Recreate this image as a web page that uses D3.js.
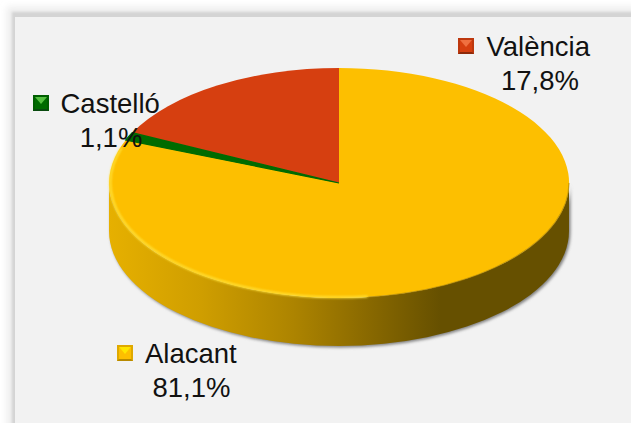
<!DOCTYPE html>
<html><head><meta charset="utf-8">
<script src="https://cdn.jsdelivr.net/npm/d3@7"></script>
<style>html,body{margin:0;padding:0;background:#fff;overflow:hidden}svg{display:block}text{font-family:"Liberation Sans",sans-serif;fill:#111}</style>
</head><body><svg id="c" width="631" height="423"></svg>
<script>
const categories = ["Alacant", "Castelló", "València"];
const values = [81.1, 1.1, 17.8];
const valueLabels = ["81,1%", "1,1%", "17,8%"];
const topColors = ["#fdbf00", "#006b00", "#d63f10"];
const markerLight = ["#ffe600", "#55c040", "#f07040"];
const markerDark = ["#b88a00", "#0a4a10", "#8e2a0a"];

const W = 631, H = 423, cx = 339, cy = 183, rx = 230, ry = 115, depth = 48;
const labelPos = [
  {mx:117, my:345, tx:145, ty:363, px:191.5, py:397},
  {mx:33,  my:95,  tx:60.5,  ty:113, px:111,   py:147},
  {mx:458, my:38,  tx:486.5, ty:56,  px:540,   py:90}
];
const svg = d3.select("#c");
const defs = svg.append("defs");

const addBlur = (id,sd)=>defs.append("filter").attr("id",id).attr("x","-10%").attr("y","-10%").attr("width","120%").attr("height","120%")
  .append("feGaussianBlur").attr("stdDeviation",sd);
addBlur("outerBlur",3.5);
addBlur("frameBlur",1);
addBlur("shadow",1.8);
addBlur("rimBlur",0.9);

const grad = defs.append("linearGradient").attr("id","side")
  .attr("gradientUnits","objectBoundingBox").attr("x1",0).attr("x2",1).attr("y1",0).attr("y2",0);
[[0,"#e6b000"],[0.2,"#cf9e00"],[0.4,"#ad8400"],[0.55,"#8c6b00"],[0.72,"#665000"],[1,"#665000"]]
  .forEach(d=>grad.append("stop").attr("offset",d[0]).attr("stop-color",d[1]));

// card frame
svg.append("rect").attr("x",7).attr("y",7).attr("width",660).attr("height",450).attr("fill","#ececec").attr("filter","url(#outerBlur)");
svg.append("rect").attr("x",12).attr("y",12).attr("width",640).attr("height",430).attr("fill","#d4d4d4").attr("filter","url(#frameBlur)");
svg.append("rect").attr("x",15).attr("y",17).attr("width",640).attr("height",430).attr("fill","#f2f2f2");

// unit-circle geometry projected to the tilted ellipse
const unit = `scale(${rx},${ry})`;
const d3h = depth/ry;
const sidePath = d3.path();
sidePath.moveTo(-1,0);
sidePath.lineTo(-1,d3h);
sidePath.arc(0,d3h,1,Math.PI,0,true);
sidePath.lineTo(1,0);
sidePath.arc(0,0,1,0,Math.PI,false);
sidePath.closePath();

svg.append("g").attr("filter","url(#shadow)")
  .append("path").attr("transform",`translate(${cx+1.5},${cy+1.5}) ${unit}`)
  .attr("d",sidePath.toString()).attr("fill","#808080");

const grp = svg.append("g").attr("transform",`translate(${cx},${cy}) ${unit}`);
grp.append("path").attr("d",sidePath.toString()).attr("fill","url(#side)");

const arcs = d3.pie().sort(null).value(d=>d)(values);
const arcGen = d3.arc().innerRadius(0).outerRadius(1);
grp.selectAll("path.slice").data(arcs).join("path").attr("class","slice")
   .attr("d",arcGen).attr("fill",(d,i)=>topColors[i]);
// the thin wedge is drawn last again with a hairline so it keeps its visible width
grp.append("path").datum(arcs[1]).attr("d",arcGen).attr("fill",topColors[1])
   .attr("stroke",topColors[1]).attr("stroke-width",1.2).attr("vector-effect","non-scaling-stroke");

// bright bevel on the lower-left rim of the top face
const rim = d3.path();
rim.arc(0,0,0.994,Math.PI*0.46,Math.PI*1.1,false);
svg.append("g").attr("filter","url(#rimBlur)")
   .append("path").attr("transform",`translate(${cx},${cy}) ${unit}`).attr("d",rim.toString())
   .attr("fill","none").attr("stroke","#ffe23a").attr("vector-effect","non-scaling-stroke").attr("stroke-width",2);
const rim2 = d3.path();
rim2.arc(0,0,1,Math.PI*0.0,Math.PI*0.46,false);
grp.append("path").attr("d",rim2.toString()).attr("fill","none").attr("stroke","#a88000")
   .attr("vector-effect","non-scaling-stroke").attr("stroke-width",1.2).attr("opacity",0.6);

// legend labels
const ms = 16, b = 2;
const lab = svg.append("g").selectAll("g").data(categories).join("g");
lab.each(function(name,i){
  const g = d3.select(this), p = labelPos[i], x = p.mx, y = p.my;
  const poly = (pts,f)=>g.append("polygon").attr("points",pts.map(q=>q.join(",")).join(" ")).attr("fill",f);
  g.append("rect").attr("x",x).attr("y",y).attr("width",ms).attr("height",ms).attr("fill",d3.color(topColors[i]).darker(0.35));
  poly([[x+b,y+ms-b],[x+ms-b,y+ms-b],[x+ms-b,y+b],[x+ms/2,y+ms/2],[x+b,y+b]],topColors[i]);
  poly([[x+b,y+b],[x+ms-b,y+b],[x+ms/2,y+ms/2+1]],markerLight[i]);
  poly([[x,y+ms],[x+ms,y+ms],[x+ms-b,y+ms-b],[x+b,y+ms-b]],markerDark[i]);
  g.append("text").attr("x",p.tx).attr("y",p.ty).attr("font-size",27.5).text(name);
  g.append("text").attr("x",p.px).attr("y",p.py).attr("font-size",27.5).attr("text-anchor","middle").text(valueLabels[i]);
});
</script></body></html>
